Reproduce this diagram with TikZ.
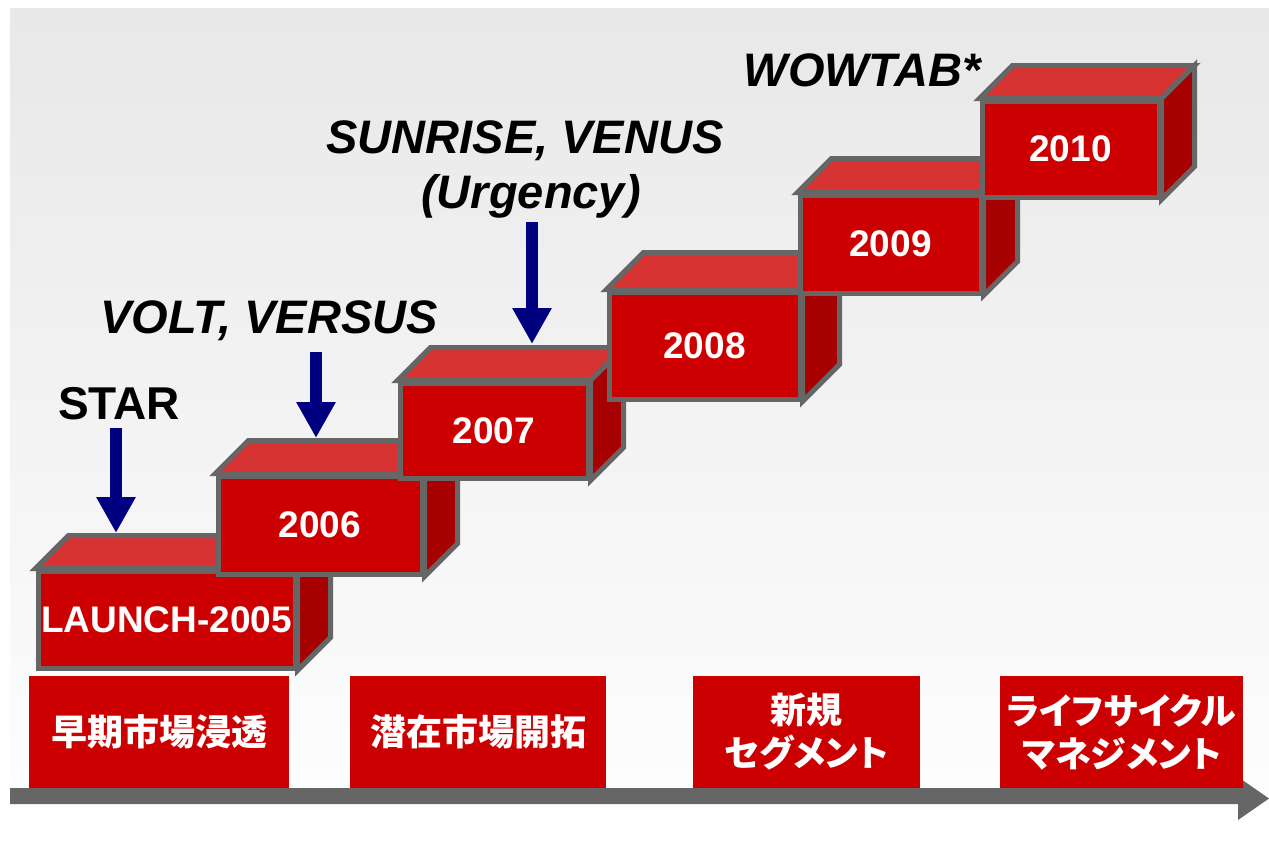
\documentclass[tikz,border=0pt]{standalone}
\usepackage{fontspec}
\setmainfont{Liberation Sans}
\newfontfamily\jpfont[RawFeature={+palt}]{Noto Sans CJK JP}
\usetikzlibrary{arrows.meta,calc}
\definecolor{frontred}{HTML}{CC0000}
\definecolor{topred}{HTML}{D73333}
\definecolor{sidered}{HTML}{A60000}
\definecolor{edgegray}{HTML}{666666}
\definecolor{navyarr}{HTML}{000080}
\definecolor{panelgray}{HTML}{E8E8E8}
\tikzset{
  face/.style={draw=edgegray, line width=5pt, line join=miter},
  frontface/.style={face, fill=frontred, inner sep=0pt, text=white,
    font=\fontsize{37}{44}\selectfont\bfseries},
  topface/.style={face, fill=topred},
  sideface/.style={face, fill=sidered},
  stagebox/.style={fill=frontred, inner sep=0pt, text=white, align=center,
    font=\jpfont\bfseries\fontsize{36}{43}\selectfont},
  product/.style={anchor=base, text=black, inner sep=0pt,
    font=\fontsize{47}{56}\selectfont\bfseries\itshape},
  navyarrow/.style={draw=navyarr, line width=12pt,
    -{Triangle[width=37pt,length=36pt]}},
}
\newcommand{\cubefaces}[2]{%
  \draw[topface] (#1.north west) -- ++(#2,-#2) -- ($(#1.north east)+(#2,-#2)$) -- (#1.north east) -- cycle;
  \draw[sideface] (#1.north east) -- ++(#2,-#2) -- ($(#1.south east)+(#2,-#2)$) -- (#1.south east) -- cycle;
}
\begin{document}
\begin{tikzpicture}[x=1pt,y=-1pt]
\useasboundingbox (0,0) rectangle (1269,862);
\fill[white] (0,0) rectangle (1269,862);
% background panel
\shade[top color=panelgray, bottom color=white] (10,8) rectangle (1269,862);

% timeline arrow
\fill[edgegray] (10,788) -- (1238,788) -- (1238,777) -- (1269,798.5) -- (1238,820) -- (1238,804) -- (10,804) -- cycle;

% stage boxes
\node[stagebox, minimum width=260pt, minimum height=112pt] (s1) at (159,732) {早期市場浸透};
\node[stagebox, minimum width=256pt, minimum height=112pt] (s2) at (478,732) {潜在市場開拓};
\node[stagebox, minimum width=227pt, minimum height=112pt] (s3) at (806.5,732) {新規\\セグメント};
\node[stagebox, minimum width=243pt, minimum height=112pt] (s4) at (1121.5,732) {ライフサイクル\\マネジメント};

% cubes
\node[frontface, minimum width=257pt, minimum height=97pt] (c1) at (166.5,619.5) {LAUNCH-2005};
\cubefaces{c1}{33}
\node[frontface, minimum width=204pt, minimum height=98pt] (c2) at (320,525) {2006};
\cubefaces{c2}{33}
\node[frontface, minimum width=188pt, minimum height=95pt] (c3) at (494,430.5) {2007};
\cubefaces{c3}{33}
\node[frontface, minimum width=191pt, minimum height=107pt] (c4) at (704.5,345.5) {2008};
\cubefaces{c4}{37}
\node[frontface, minimum width=181pt, minimum height=98pt] (c5) at (890.5,244) {2009};
\cubefaces{c5}{34}
\node[frontface, minimum width=177pt, minimum height=96pt] (c6) at (1070.5,149) {2010};
\cubefaces{c6}{33}

% product labels
\node[product, font=\fontsize{46}{56}\selectfont\bfseries] (star) at (119,419) {STAR};
\node[product] (volt) at (269,333) {VOLT, VERSUS};
\node[product] (sunrise) at (525,153) {SUNRISE, VENUS};
\node[product] (urgency) at (531,208) {(Urgency)};
\node[product] (wowtab) at (862,86) {WOWTAB*};

% arrows
\coordinate (a1s) at (116,428);
\coordinate (a1e) at (116,533);
\coordinate (a2s) at (316,352);
\coordinate (a2e) at (316,438);
\coordinate (a3s) at (532,222);
\coordinate (a3e) at (532,344);
\draw[navyarrow] (a1s) -- (a1e);
\draw[navyarrow] (a2s) -- (a2e);
\draw[navyarrow] (a3s) -- (a3e);
\end{tikzpicture}
\end{document}
